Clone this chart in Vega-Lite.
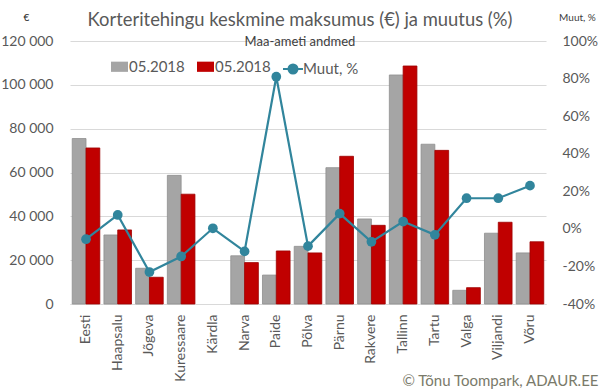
{
  "$schema": "https://vega.github.io/schema/vega-lite/v6.json",
  "width": 476,
  "height": 263,
  "autosize": "none",
  "padding": {"left": 70, "top": 41, "right": 54, "bottom": 88},
  "background": "white",
  "title": {
    "text": "Korteritehingu keskmine maksumus (€) ja muutus (%)",
    "subtitle": "Maa-ameti andmed",
    "anchor": "middle",
    "frame": "group",
    "dx": -8,
    "offset": -37,
    "font": "Lato",
    "fontSize": 18.4,
    "fontWeight": "normal",
    "color": "#595959",
    "subtitleFont": "Lato",
    "subtitleFontSize": 13,
    "subtitleColor": "#404040",
    "subtitlePadding": 7
  },
  "config": {
    "font": "Lato",
    "view": {"stroke": null},
    "locale": {
      "number": {"decimal": ",", "thousands": " ", "grouping": [3], "currency": ["", " €"], "minus": "-", "percent": "%"}
    },
    "axis": {
      "labelFont": "Lato",
      "labelFontSize": 14,
      "labelColor": "#595959",
      "titleFont": "Lato",
      "titleFontWeight": "normal"
    },
    "legend": {"labelFont": "Lato", "labelFontSize": 15, "labelColor": "#595959"}
  },
  "datasets": {
    "bars": [
      {"linn": "Eesti", "seeria": "a", "hind": 75500},
      {"linn": "Eesti", "seeria": "b", "hind": 71200},
      {"linn": "Haapsalu", "seeria": "a", "hind": 31500},
      {"linn": "Haapsalu", "seeria": "b", "hind": 33800},
      {"linn": "Jõgeva", "seeria": "a", "hind": 16300},
      {"linn": "Jõgeva", "seeria": "b", "hind": 12200},
      {"linn": "Kuressaare", "seeria": "a", "hind": 58700},
      {"linn": "Kuressaare", "seeria": "b", "hind": 50100},
      {"linn": "Narva", "seeria": "a", "hind": 22000},
      {"linn": "Narva", "seeria": "b", "hind": 18900},
      {"linn": "Paide", "seeria": "a", "hind": 13200},
      {"linn": "Paide", "seeria": "b", "hind": 24200},
      {"linn": "Põlva", "seeria": "a", "hind": 26300},
      {"linn": "Põlva", "seeria": "b", "hind": 23300},
      {"linn": "Pärnu", "seeria": "a", "hind": 62200},
      {"linn": "Pärnu", "seeria": "b", "hind": 67400},
      {"linn": "Rakvere", "seeria": "a", "hind": 38800},
      {"linn": "Rakvere", "seeria": "b", "hind": 35900},
      {"linn": "Tallinn", "seeria": "a", "hind": 104500},
      {"linn": "Tallinn", "seeria": "b", "hind": 108600},
      {"linn": "Tartu", "seeria": "a", "hind": 72900},
      {"linn": "Tartu", "seeria": "b", "hind": 70100},
      {"linn": "Valga", "seeria": "a", "hind": 6250},
      {"linn": "Valga", "seeria": "b", "hind": 7450},
      {"linn": "Viljandi", "seeria": "a", "hind": 32300},
      {"linn": "Viljandi", "seeria": "b", "hind": 37300},
      {"linn": "Võru", "seeria": "a", "hind": 23300},
      {"linn": "Võru", "seeria": "b", "hind": 28400}
    ],
    "muutus": [
      {"linn": "Eesti", "muut": -0.055},
      {"linn": "Haapsalu", "muut": 0.074},
      {"linn": "Jõgeva", "muut": -0.23},
      {"linn": "Kuressaare", "muut": -0.147},
      {"linn": "Kärdla", "muut": 0.003},
      {"linn": "Narva", "muut": -0.12},
      {"linn": "Paide", "muut": 0.81},
      {"linn": "Põlva", "muut": -0.092},
      {"linn": "Pärnu", "muut": 0.081},
      {"linn": "Rakvere", "muut": -0.069},
      {"linn": "Tallinn", "muut": 0.039},
      {"linn": "Tartu", "muut": -0.032},
      {"linn": "Valga", "muut": 0.163},
      {"linn": "Viljandi", "muut": 0.163},
      {"linn": "Võru", "muut": 0.23}
    ]
  },
  "encoding": {
    "x": {
      "field": "linn",
      "type": "nominal",
      "sort": ["Eesti", "Haapsalu", "Jõgeva", "Kuressaare", "Kärdla", "Narva", "Paide", "Põlva", "Pärnu", "Rakvere", "Tallinn", "Tartu", "Valga", "Viljandi", "Võru"],
      "scale": {"domain": ["Eesti", "Haapsalu", "Jõgeva", "Kuressaare", "Kärdla", "Narva", "Paide", "Põlva", "Pärnu", "Rakvere", "Tallinn", "Tartu", "Valga", "Viljandi", "Võru"], "paddingInner": 0.13, "paddingOuter": 0.07},
      "axis": {
        "title": "© Tõnu Toompark, ADAUR.EE",
        "titleX": 528,
        "titleY": 81,
        "titleAlign": "right",
        "titleAnchor": null,
        "titleBaseline": "alphabetic",
        "titleColor": "#7a7a6a",
        "titleFontSize": 15,
        "labelAngle": -90,
        "labelAlign": "right",
        "labelBaseline": "middle",
        "labelPadding": 10,
        "ticks": false,
        "domainColor": "#d9d9d9",
        "domainWidth": 1
      }
    }
  },
  "layer": [
    {
      "data": {"name": "bars"},
      "mark": {"type": "bar", "strokeWidth": 0.8},
      "encoding": {
        "xOffset": {"field": "seeria", "type": "nominal", "scale": {"paddingInner": 0, "paddingOuter": 0}},
        "y": {
          "field": "hind",
          "type": "quantitative",
          "scale": {"domain": [0, 120000], "nice": false},
          "axis": {
            "values": [0, 20000, 40000, 60000, 80000, 100000, 120000],
            "format": ",d",
            "title": "€",
            "titleAngle": 0,
            "titleX": -44,
            "titleY": -24,
            "titleAlign": "center",
            "titleBaseline": "middle",
            "titleFontSize": 10,
            "titleColor": "#262626",
            "grid": true,
            "gridColor": "#d9d9d9",
            "domain": false,
            "ticks": false,
            "labelPadding": 17
          }
        },
        "fill": {
          "field": "seeria",
          "type": "nominal",
          "scale": {"domain": ["a", "b"], "range": ["#a5a5a5", "#c00000"]},
          "legend": {
            "orient": "none",
            "legendX": 41,
            "legendY": 17,
            "direction": "horizontal",
            "title": null,
            "padding": 0,
            "labelExpr": "'05.2018'",
            "symbolType": "M-1,-0.6H1V0.6H-1Z",
            "symbolSize": 289,
            "symbolStrokeWidth": 0,
            "columnPadding": 12,
            "labelOffset": 1
          }
        },
        "stroke": {
          "field": "seeria",
          "type": "nominal",
          "scale": {"domain": ["a", "b"], "range": ["#8f8f8f", "#9e0000"]},
          "legend": null
        }
      }
    },
    {
      "data": {"name": "muutus"},
      "encoding": {
        "y": {
          "field": "muut",
          "type": "quantitative",
          "scale": {"domain": [-0.4, 1.0], "nice": false},
          "axis": {
            "orient": "right",
            "values": [-0.4, -0.2, 0, 0.2, 0.4, 0.6, 0.8, 1.0],
            "format": ".0%",
            "title": "Muut, %",
            "titleAngle": 0,
            "titleX": 31,
            "titleY": -24,
            "titleAlign": "center",
            "titleBaseline": "middle",
            "titleFontSize": 10,
            "titleColor": "#404040",
            "grid": false,
            "domain": false,
            "ticks": false,
            "labelPadding": 16
          }
        }
      },
      "layer": [
        {
          "mark": {"type": "line", "strokeWidth": 2.2},
          "encoding": {
            "color": {
              "datum": "Muut, %",
              "type": "nominal",
              "scale": {"domain": ["Muut, %"], "range": ["#31859c"]},
              "legend": {
                "orient": "none",
                "legendX": 212,
                "legendY": 17,
                "title": null,
                "padding": 0,
                "symbolType": "M-1,0H1M-0.45,0A0.45,0.45 0 1,0 0.45,0A0.45,0.45 0 1,0 -0.45,0",
                "symbolSize": 400,
                "symbolFillColor": "#31859c",
                "symbolStrokeColor": "#31859c",
                "symbolStrokeWidth": 2,
                "labelOffset": -1
              }
            }
          }
        },
        {
          "mark": {"type": "point", "filled": true, "size": 95, "color": "#31859c", "opacity": 1},
          "encoding": {}
        }
      ]
    }
  ],
  "resolve": {"scale": {"y": "independent"}}
}
